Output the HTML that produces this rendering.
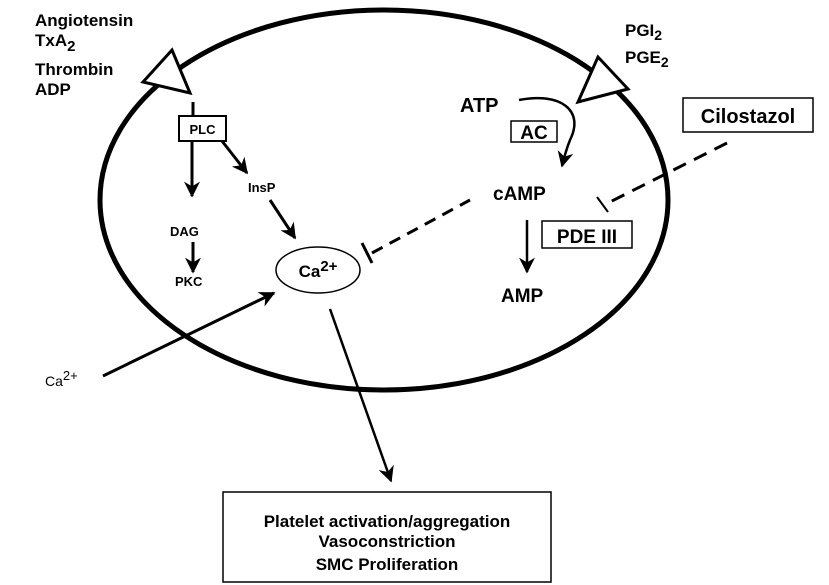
<!DOCTYPE html>
<html><head><meta charset="utf-8"><style>
html,body{margin:0;padding:0;background:#fff;}
svg{display:block;}
text{font-family:"Liberation Sans",Arial,sans-serif;font-weight:bold;fill:#000;}
</style></head><body>
<svg width="829" height="585" viewBox="0 0 829 585" xmlns="http://www.w3.org/2000/svg">
<defs>
<marker id="a" viewBox="0 0 10 10" refX="9" refY="5" markerWidth="7" markerHeight="7" orient="auto" markerUnits="userSpaceOnUse">
<path d="M0,0 L10,5 L0,10 L3,5 z" fill="#000"/></marker>
<marker id="b" viewBox="0 0 10 10" refX="9" refY="5" markerWidth="16" markerHeight="16" orient="auto" markerUnits="userSpaceOnUse">
<path d="M0,0 L10,5 L0,10 L3,5 z" fill="#000"/></marker>
</defs>
<ellipse cx="384" cy="200" rx="284" ry="190" fill="none" stroke="#000" stroke-width="5"/>
<polygon points="172,50 143,82 190,93" fill="#fff" stroke="#000" stroke-width="3"/>
<polygon points="598,57 578,102 628,89" fill="#fff" stroke="#000" stroke-width="3"/>

<text x="35" y="26" font-size="17">Angiotensin</text>
<text x="35" y="46" font-size="17">TxA<tspan font-size="15" dy="5">2</tspan></text>
<text x="35" y="75" font-size="17">Thrombin</text>
<text x="35" y="95" font-size="17">ADP</text>

<text x="625" y="36" font-size="17">PGI<tspan font-size="14" dy="4">2</tspan></text>
<text x="625" y="63" font-size="17">PGE<tspan font-size="14" dy="4">2</tspan></text>

<line x1="193" y1="102" x2="193" y2="116" stroke="#000" stroke-width="3"/>
<rect x="179" y="116" width="47" height="25" fill="#fff" stroke="#000" stroke-width="2"/>
<text x="202.5" y="134" font-size="13" text-anchor="middle">PLC</text>
<line x1="192" y1="141" x2="192" y2="196" stroke="#000" stroke-width="3" marker-end="url(#b)"/>
<line x1="222" y1="141" x2="247" y2="173" stroke="#000" stroke-width="3" marker-end="url(#b)"/>
<text x="248" y="192" font-size="13">InsP</text>
<line x1="270" y1="200" x2="295" y2="238" stroke="#000" stroke-width="3" marker-end="url(#b)"/>
<text x="170" y="236" font-size="13">DAG</text>
<line x1="193" y1="242" x2="193" y2="272" stroke="#000" stroke-width="3" marker-end="url(#b)"/>
<text x="175" y="286" font-size="13">PKC</text>

<ellipse cx="318" cy="270" rx="42" ry="23" fill="#fff" stroke="#000" stroke-width="1.5"/>
<text x="318" y="277" font-size="17" text-anchor="middle">Ca<tspan font-size="15" dy="-6">2+</tspan></text>

<line x1="372" y1="253" x2="470" y2="200" stroke="#000" stroke-width="3" stroke-dasharray="12,8"/>
<line x1="362" y1="243" x2="372" y2="263" stroke="#000" stroke-width="3"/>

<text x="45" y="386" font-size="14" font-weight="normal" style="font-weight:normal">Ca<tspan font-size="13" dy="-6">2+</tspan></text>
<line x1="103" y1="376" x2="274" y2="293" stroke="#000" stroke-width="3" marker-end="url(#b)"/>
<line x1="330" y1="309" x2="391" y2="481" stroke="#000" stroke-width="2.5" marker-end="url(#b)"/>

<text x="460" y="112" font-size="20">ATP</text>
<path d="M519,100 C560,92 585,110 570,140 C566,150 564,158 562,166" fill="none" stroke="#000" stroke-width="2.5" marker-end="url(#b)"/>
<rect x="511" y="121" width="46" height="21" fill="#fff" stroke="#000" stroke-width="1.5"/>
<text x="534" y="139" font-size="19" text-anchor="middle">AC</text>
<text x="493" y="200" font-size="19">cAMP</text>
<line x1="527" y1="220" x2="527" y2="272" stroke="#000" stroke-width="2.5" marker-end="url(#b)"/>
<text x="501" y="302" font-size="19">AMP</text>
<rect x="542" y="221" width="90" height="27" fill="#fff" stroke="#000" stroke-width="1.5"/>
<text x="587" y="243" font-size="19" text-anchor="middle">PDE III</text>

<line x1="727" y1="143" x2="604" y2="205" stroke="#000" stroke-width="3" stroke-dasharray="14,9"/>
<line x1="597" y1="197" x2="608" y2="212" stroke="#000" stroke-width="2"/>
<rect x="683" y="98" width="130" height="34" fill="#fff" stroke="#000" stroke-width="1.5"/>
<text x="748" y="123" font-size="20" text-anchor="middle">Cilostazol</text>

<rect x="223" y="492" width="328" height="90" fill="#fff" stroke="#000" stroke-width="1.5"/>
<text x="387" y="527" font-size="17" text-anchor="middle">Platelet activation/aggregation</text>
<text x="387" y="547" font-size="17" text-anchor="middle">Vasoconstriction</text>
<text x="387" y="570" font-size="17" text-anchor="middle">SMC Proliferation</text>
</svg>
</body></html>
